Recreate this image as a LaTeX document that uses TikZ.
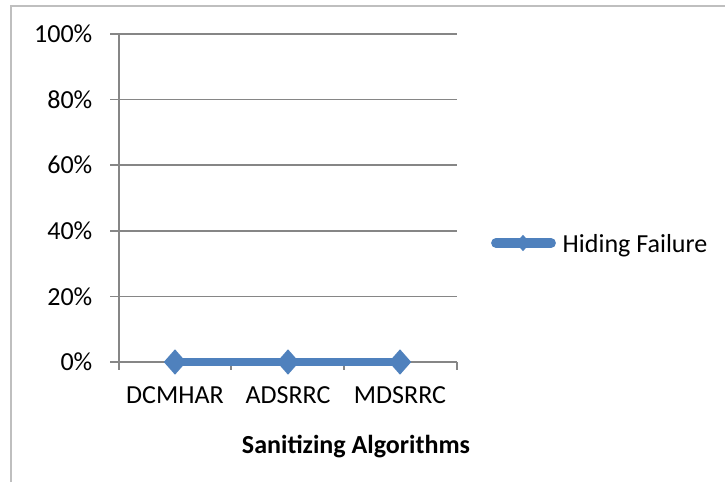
\documentclass[tikz,border=0pt]{standalone}
\usepackage{fontspec}
\setmainfont{Carlito}
\usetikzlibrary{shapes.geometric}
\definecolor{serblue}{HTML}{4F81BD}
\definecolor{gridgray}{HTML}{868686}
\definecolor{framegray}{HTML}{BFBFBF}
\tikzset{
  lbl/.style={font=\fontsize{7.4}{9}\selectfont, inner sep=0pt},
  mark diamond/.style={diamond, fill=serblue, inner sep=0pt,
    minimum width=0.23cm, minimum height=0.26cm}
}
\begin{document}
\begin{tikzpicture}[x=0.01cm, y=-0.01cm]
   \useasboundingbox (0,0) rectangle (725,482);
   % outer frame
   \draw[framegray, line width=0.6pt] (11,482) -- (11,6) -- (725,6);
   % grid and y labels
   \foreach \v [count=\i from 0] in {0,20,40,60,80,100} {
     \draw[gridgray, line width=0.45pt] (110,{362-65.6*\i}) -- (457,{362-65.6*\i});
     \node[lbl, anchor=east] (y\v) at (93,{362-65.6*\i}) {\v\%};
   }
   % axes and ticks
   \draw[gridgray, line width=0.5pt] (119,34) -- (119,362);
   \foreach \x in {119,231,344,457}
     \draw[gridgray, line width=0.5pt] (\x,362) -- (\x,370);
   % categories
   \node[lbl, anchor=base] (c1) at (175,403) {DCMHAR};
   \node[lbl, anchor=base] (c2) at (288,403) {ADSRRC};
   \node[lbl, anchor=base] (c3) at (400,403) {MDSRRC};
   \node[lbl, anchor=base, font=\fontsize{7.4}{9}\selectfont\bfseries] (xtitle) at (356,453) {Sanitizing Algorithms};
   % series
   \coordinate (p1) at (175,362);
   \coordinate (p2) at (288,362);
   \coordinate (p3) at (400,362);
   \draw[serblue, line width=2.3pt] (p1) -- (p2) -- (p3);
   \node[mark diamond] (m1) at (p1) {};
   \node[mark diamond] (m2) at (p2) {};
   \node[mark diamond] (m3) at (p3) {};
   % legend
   \coordinate (l1) at (496,243);
   \coordinate (l2) at (551,243);
   \draw[serblue, line width=2.8pt, line cap=round] (l1) -- (l2);
   \node[mark diamond, minimum width=0.15cm, minimum height=0.17cm] (lm) at (523,243) {};
   \node[lbl, anchor=base west] (leg) at (562,252) {Hiding Failure};
\end{tikzpicture}
\end{document}
